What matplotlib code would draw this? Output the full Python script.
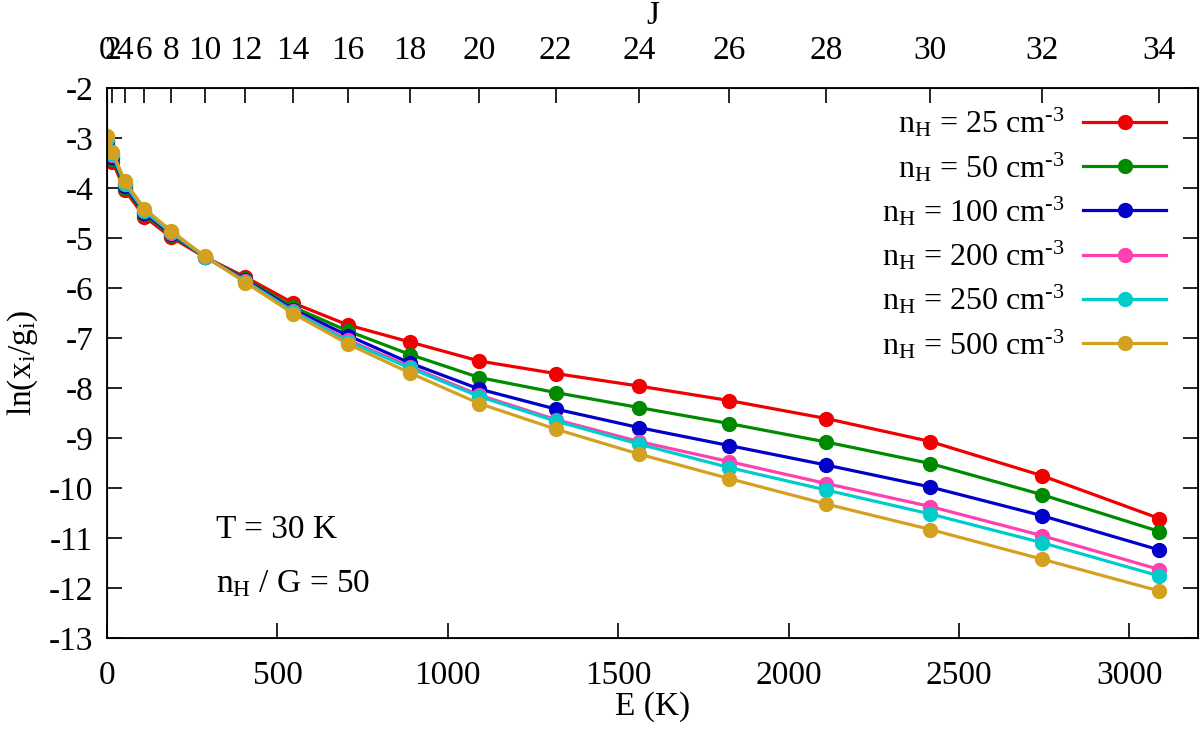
import numpy as np
import matplotlib
matplotlib.use('Agg')
import matplotlib.pyplot as plt

plt.rcParams['font.family'] = ['Liberation Serif', 'DejaVu Serif']
plt.rcParams['mathtext.fontset'] = 'custom'
plt.rcParams['mathtext.rm'] = 'Liberation Serif'
plt.rcParams['mathtext.it'] = 'Liberation Serif:italic'
plt.rcParams['axes.unicode_minus'] = False

# rotational levels J and their energies E (K)
J_levels = [0, 2, 4, 6, 8, 10, 12, 14, 16, 18, 20, 22, 24, 26, 28, 30, 32, 34]
energy = [0, 16, 52, 109, 187, 286, 406, 546, 707, 889, 1092, 1316, 1560, 1825, 2110, 2416, 2742, 3088]

# ln(x_i/g_i) for each density
ln_25 = [-3.14, -3.47, -4.04, -4.57, -4.98, -5.38, -5.78, -6.30, -6.74, -7.08, -7.46, -7.71, -7.96,
         -8.25, -8.61, -9.07, -9.75, -10.61]
ln_50 = [-3.08, -3.41, -3.99, -4.52, -4.94, -5.37, -5.82, -6.38, -6.86, -7.33, -7.79, -8.09, -8.39,
         -8.71, -9.08, -9.51, -10.13, -10.87]
ln_100 = [-3.05, -3.37, -3.95, -4.49, -4.91, -5.37, -5.84, -6.43, -6.95, -7.50, -8.02, -8.42, -8.79,
          -9.15, -9.54, -9.98, -10.55, -11.24]
ln_200 = [-3.02, -3.33, -3.92, -4.46, -4.89, -5.37, -5.86, -6.46, -7.04, -7.57, -8.14, -8.63, -9.07,
          -9.47, -9.91, -10.37, -10.95, -11.63]
ln_250 = [-3.01, -3.32, -3.91, -4.45, -4.88, -5.37, -5.87, -6.47, -7.07, -7.60, -8.17, -8.66, -9.12,
          -9.59, -10.04, -10.52, -11.09, -11.76]
ln_500 = [-2.95, -3.27, -3.86, -4.41, -4.85, -5.36, -5.89, -6.51, -7.12, -7.70, -8.31, -8.82, -9.32,
          -9.81, -10.32, -10.83, -11.42, -12.06]

densities = [25, 50, 100, 200, 250, 500]
series = [ln_25, ln_50, ln_100, ln_200, ln_250, ln_500]
colors = ['#f00000', '#008a00', '#0000c8', '#ff40b0', '#00cccc', '#d4a020']

fs = 24

fig = plt.figure(figsize=(12, 7.31), dpi=100)
ax = fig.add_axes([0.0892, 0.1272, 0.9088, 0.7524])

for dens, vals, col in zip(densities, series, colors):
    ax.plot(energy, vals, '-o', color=col, lw=2.3, ms=10,
            label=r'n$_\mathrm{H}$ = %d cm$^{\text{-3}}$' % dens)

ax.set_xlim(0, 3200)
ax.set_ylim(-13, -2)
ax.set_xticks(np.arange(0, 3001, 500))
ax.set_yticks(np.arange(-13, -1, 1))
ax.tick_params(direction='in', length=11, width=1.2, labelsize=fs, pad=10,
               top=False, right=True)
ax.tick_params(axis='x', pad=16)
for s in ax.spines.values():
    s.set_linewidth(1.3)
ax.set_xlabel('E (K)', fontsize=fs, labelpad=0)
ax.set_ylabel(r'ln(x$_\mathrm{i}$/g$_\mathrm{i}$)', fontsize=fs, labelpad=6)

ax2 = ax.twiny()
ax2.set_xlim(ax.get_xlim())
ax2.set_xticks(energy)
ax2.set_xticklabels([str(j) for j in J_levels])
ax2.tick_params(direction='in', length=11, width=1.2, labelsize=fs, pad=16)
ax2.set_xlabel('J', fontsize=fs, labelpad=8)

ax.text(320, -10.84, 'T = 30 K', fontsize=fs, va='center', ha='left')
ax.text(320, -11.92, r'n$_\mathrm{H}$ / G = 50', fontsize=fs, va='center', ha='left')

ax.legend(loc='upper right', frameon=False, fontsize=23, markerfirst=False,
          handlelength=2.6, labelspacing=0.33, handletextpad=0.6,
          borderaxespad=0.0, bbox_to_anchor=(0.983, 0.99))

fig.savefig('out.png', dpi=100)
